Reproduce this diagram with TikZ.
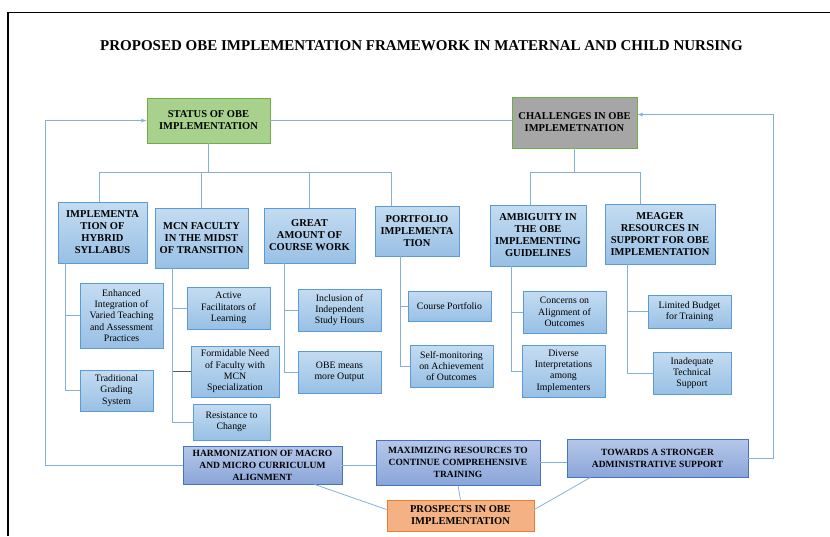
\documentclass[tikz,border=0pt]{standalone}
\usepackage{fontspec}
\setmainfont{Liberation Serif}
\usetikzlibrary{arrows,positioning}
\definecolor{linkblue}{RGB}{131,176,222}
\definecolor{statusgreen}{RGB}{169,209,142}
\definecolor{greenedge}{RGB}{112,173,71}
\definecolor{challengegray}{RGB}{166,166,166}
\definecolor{prospectorange}{RGB}{244,177,131}
\definecolor{orangeedge}{RGB}{237,125,49}
\definecolor{lvltop}{RGB}{196,220,241}
\definecolor{lvlbot}{RGB}{152,192,229}
\definecolor{lvledge}{RGB}{91,155,213}
\definecolor{basetop}{RGB}{182,200,233}
\definecolor{basebot}{RGB}{138,165,217}
\definecolor{baseedge}{RGB}{68,114,196}

\begin{document}
\begin{tikzpicture}[x=1pt, y=-1pt, >=latex,
    link/.style={draw=linkblue, line width=0.8pt},
    headbox/.style={align=center, inner sep=1pt, line width=0.8pt,
      font=\bfseries\fontsize{10.5}{12}\selectfont},
    lvlbox/.style={headbox, draw=lvledge, top color=lvltop, bottom color=lvlbot},
    itembox/.style={draw=lvledge, top color=lvltop, bottom color=lvlbot,
      align=center, inner sep=1pt, line width=0.8pt,
      font=\fontsize{9.8}{11.3}\selectfont},
    basebox/.style={headbox, draw=baseedge, top color=basetop, bottom color=basebot,
      font=\bfseries\fontsize{9.5}{12}\selectfont}]
        \useasboundingbox (0,0) rectangle (830,536);
        % Page frame
        \draw[line width=1.6pt] (8,536) -- (8,12.5) -- (830,12.5);

        % Title
        \node[font=\bfseries\fontsize{15}{17}\selectfont] (title) at (421.5,46)
          {PROPOSED OBE IMPLEMENTATION FRAMEWORK IN MATERNAL AND CHILD NURSING};

        % Main themes
        \node[headbox, draw=greenedge, fill=statusgreen, minimum width=123, minimum height=45]
          (status) at (208.5,120.5) {STATUS OF OBE\\IMPLEMENTATION};
        \node[headbox, draw=greenedge, fill=challengegray, minimum width=125, minimum height=51]
          (challenge) at (574.5,122.5) {CHALLENGES IN OBE\\IMPLEMETNATION};

        % Status sub-themes
        \node[lvlbox, minimum width=89, minimum height=61] (hybrid) at (102.5,232.5)
          {IMPLEMENTA\\TION OF\\HYBRID\\SYLLABUS};
        \node[lvlbox, minimum width=93, minimum height=60] (faculty) at (201.5,238)
          {MCN FACULTY\\IN THE MIDST\\OF TRANSITION};
        \node[lvlbox, minimum width=91, minimum height=55] (coursework) at (309.5,235.5)
          {GREAT\\AMOUNT OF\\COURSE WORK};
        \node[lvlbox, minimum width=84, minimum height=50] (portfolio) at (417,231)
          {PORTFOLIO\\IMPLEMENTA\\TION};

        % Challenge sub-themes
        \node[lvlbox, minimum width=96, minimum height=61] (ambiguity) at (538,235.5)
          {AMBIGUITY IN\\THE OBE\\IMPLEMENTING\\GUIDELINES};
        \node[lvlbox, minimum width=110, minimum height=60] (meager) at (660,234)
          {MEAGER\\RESOURCES IN\\SUPPORT FOR OBE\\IMPLEMENTATION};

        % Items
        \node[itembox, minimum width=83, minimum height=65] (enhanced) at (121.5,315.5)
          {Enhanced\\Integration of\\Varied Teaching\\and Assessment\\Practices};
        \node[itembox, minimum width=73, minimum height=41] (grading) at (116.5,390.5)
          {Traditional\\Grading\\System};
        \node[itembox, minimum width=83, minimum height=42] (active) at (228.5,308)
          {Active\\Facilitators of\\Learning};
        \node[itembox, minimum width=88, minimum height=51] (formidable) at (235,371.5)
          {Formidable Need\\of Faculty with\\MCN\\Specialization};
        \node[itembox, minimum width=77, minimum height=36] (resistance) at (231.5,422)
          {Resistance to\\Change};
        \node[itembox, minimum width=83, minimum height=42] (inclusion) at (339.5,310)
          {Inclusion of\\Independent\\Study Hours};
        \node[itembox, minimum width=83, minimum height=42] (output) at (339.5,372)
          {OBE means\\more Output};
        \node[itembox, minimum width=83, minimum height=30] (courseport) at (449.5,306)
          {Course Portfolio};
        \node[itembox, minimum width=83, minimum height=42] (selfmon) at (451.5,366)
          {Self-monitoring\\on Achievement\\of Outcomes};
        \node[itembox, minimum width=83, minimum height=42] (concerns) at (564.5,312)
          {Concerns on\\Alignment of\\Outcomes};
        \node[itembox, minimum width=83, minimum height=52] (diverse) at (563.5,371)
          {Diverse\\Interpretations\\among\\Implementers};
        \node[itembox, minimum width=83, minimum height=33] (budget) at (689.5,311.5)
          {Limited Budget\\for Training};
        \node[itembox, minimum width=78, minimum height=42] (techsup) at (692,373)
          {Inadequate\\Technical\\Support};

        % Prospects
        \node[basebox, minimum width=159, minimum height=38] (harmon) at (262.5,465)
          {HARMONIZATION OF MACRO\\AND MICRO CURRICULUM\\ALIGNMENT};
        \node[basebox, minimum width=164, minimum height=45] (maximize) at (458,462.5)
          {MAXIMIZING RESOURCES TO\\CONTINUE COMPREHENSIVE\\TRAINING};
        \node[basebox, minimum width=181, minimum height=38] (stronger) at (657.5,458)
          {TOWARDS A STRONGER\\ADMINISTRATIVE SUPPORT};
        \node[headbox, draw=orangeedge, fill=prospectorange, minimum width=147, minimum height=31]
          (prospects) at (460.5,515.5) {PROSPECTS IN OBE\\IMPLEMENTATION};

        % Top links
        \draw[link] (status.east) -- (status.east -| challenge.west);
        \coordinate (sbarL) at (99,172);
        \coordinate (sbarR) at (391,172);
        \draw[link] (status.south) -- (status.south |- sbarL);
        \draw[link] (sbarL) -- (sbarR);
        \draw[link] (sbarL) -- (sbarL |- hybrid.north);
        \draw[link] (faculty.north |- sbarL) -- (faculty.north);
        \draw[link] (coursework.north |- sbarL) -- (coursework.north);
        \draw[link] (sbarR) -- (sbarR |- portfolio.north);
        \coordinate (cbarL) at (530,172);
        \coordinate (cbarR) at (640,172);
        \draw[link] (challenge.south) -- (challenge.south |- cbarL);
        \draw[link] (cbarL) -- (cbarR);
        \draw[link] (cbarL) -- (cbarL |- ambiguity.north);
        \draw[link] (cbarR) -- (cbarR |- meager.north);

        % Item spines
        \draw[link] ([xshift=8pt]hybrid.south west) coordinate (hs) -- (hs |- grading.west) -- (grading.west);
        \draw[link] (hs |- enhanced.west) -- (enhanced.west);
        \draw[link] ([xshift=18pt]faculty.south west) coordinate (fs) -- (fs |- resistance.west) -- (resistance.west);
        \draw[link] (fs |- active.west) -- (active.west);
        \draw[draw=black!65, line width=0.8pt] (fs |- formidable.west) -- (formidable.west);
        \draw[link] ([xshift=21pt]coursework.south west) coordinate (gs) -- (gs |- output.west) -- (output.west);
        \draw[link] (gs |- inclusion.west) -- (inclusion.west);
        \draw[link] ([xshift=26pt]portfolio.south west) coordinate (ps) -- (ps |- selfmon.west) -- (selfmon.west);
        \draw[link] (ps |- courseport.west) -- (courseport.west);
        \draw[link] ([xshift=22pt]ambiguity.south west) coordinate (as) -- (as |- diverse.west) -- (diverse.west);
        \draw[link] (as |- concerns.west) -- (concerns.west);
        \draw[link] ([xshift=23pt]meager.south west) coordinate (ms) -- (ms |- techsup.west) -- (techsup.west);
        \draw[link] (ms |- budget.west) -- (budget.west);

        % Bottom links
        \draw[link] (harmon.east) -- (maximize.west |- harmon.east);
        \draw[link] (maximize.east) -- (stronger.west |- maximize.east);
        \draw[link] ([xshift=52pt]harmon.south) -- ([yshift=6pt]prospects.west);
        \draw[link] (maximize.south) -- (prospects.north);
        \draw[link] ([xshift=-67pt]stronger.south) -- ([yshift=6pt]prospects.east);

        % Feedback loops
        \coordinate (lloop) at (45,0);
        \coordinate (rloop) at (773,0);
        \coordinate (chin) at ([yshift=8pt]challenge.east);
        \draw[link, ->] (harmon.west) -- (harmon.west -| lloop) -- (lloop |- status.west) -- (status.west);
        \draw[link, ->] (stronger.east) -- (stronger.east -| rloop) -- (rloop |- chin) -- (chin);
\end{tikzpicture}
\end{document}
